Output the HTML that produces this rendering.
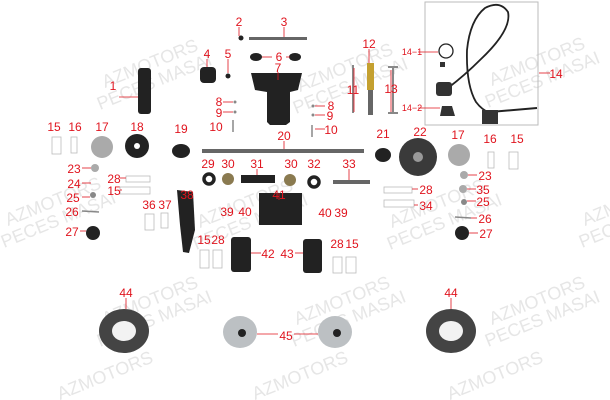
<!DOCTYPE html>
<html><head><style>
body{margin:0;background:#fff;}
svg{display:block}
.l{font-family:"Liberation Sans",sans-serif;font-size:12px;fill:#e0141e;text-anchor:middle;}
.w{font-family:"Liberation Sans",sans-serif;font-size:18px;fill:#e6e6e6;}
</style></head><body>
<svg width="610" height="400" xmlns="http://www.w3.org/2000/svg">
<g class="w">
<text transform="translate(105,88) rotate(-22)">AZMOTORS</text><text transform="translate(100,110) rotate(-22)">PECES MASAI</text>
<text transform="translate(300,92) rotate(-22)">AZMOTORS</text><text transform="translate(296,114) rotate(-22)">PECES MASAI</text>
<text transform="translate(492,86) rotate(-22)">AZMOTORS</text><text transform="translate(488,108) rotate(-22)">PECES MASAI</text>
<text transform="translate(8,226) rotate(-22)">AZMOTORS</text><text transform="translate(4,248) rotate(-22)">PECES MASAI</text>
<text transform="translate(200,228) rotate(-22)">AZMOTORS</text><text transform="translate(196,250) rotate(-22)">PECES MASAI</text>
<text transform="translate(392,228) rotate(-22)">AZMOTORS</text><text transform="translate(390,250) rotate(-22)">PECES MASAI</text>
<text transform="translate(585,226) rotate(-22)">AZMOTORS</text><text transform="translate(582,248) rotate(-22)">PECES MASAI</text>
<text transform="translate(105,325) rotate(-22)">AZMOTORS</text><text transform="translate(100,347) rotate(-22)">PECES MASAI</text>
<text transform="translate(297,325) rotate(-22)">AZMOTORS</text><text transform="translate(294,347) rotate(-22)">PECES MASAI</text>
<text transform="translate(492,325) rotate(-22)">AZMOTORS</text><text transform="translate(488,347) rotate(-22)">PECES MASAI</text>
<text transform="translate(60,400) rotate(-22)">AZMOTORS</text><text transform="translate(255,400) rotate(-22)">AZMOTORS</text><text transform="translate(450,400) rotate(-22)">AZMOTORS</text>
</g>
<!-- parts -->
<g fill="#222">
<rect x="138" y="68" width="13" height="46" rx="3"/>
<rect x="200" y="67" width="16" height="16" rx="4"/>
<circle cx="228" cy="76" r="2.5"/><circle cx="241" cy="38" r="2.5"/>
<ellipse cx="256" cy="57" rx="6" ry="4"/><ellipse cx="295" cy="57" rx="6" ry="4"/>
<path d="M251 73 L302 73 L298 90 L290 92 L290 122 L286 125 L270 125 L267 122 L267 92 L255 90Z"/>
<circle cx="137" cy="146" r="12"/><circle cx="137" cy="146" r="3" fill="#fff"/>
<ellipse cx="181" cy="151" rx="9" ry="7"/>
<ellipse cx="383" cy="155" rx="8" ry="7"/>
<circle cx="418" cy="157" r="19" fill="#3a3a3a"/><circle cx="418" cy="157" r="5" fill="#999"/>
<rect x="241" y="175" width="34" height="8"/>
<path d="M259 193 L302 193 L302 225 L259 225Z"/>
<rect x="231" y="237" width="20" height="35" rx="3"/>
<rect x="303" y="239" width="19" height="34" rx="3"/>
<path d="M177 190 L193 192 L195 230 L189 253 L183 252 L180 225Z"/>
<circle cx="93" cy="233" r="7"/><circle cx="462" cy="233" r="7"/>
<rect x="333" y="180" width="37" height="4" fill="#666"/>
<rect x="202" y="149" width="162" height="4" fill="#666"/>
<rect x="249" y="37" width="58" height="3" fill="#666"/>
<rect x="352" y="65" width="2" height="48" fill="#888"/>
<rect x="392" y="67" width="2" height="46" fill="#888"/>
<rect x="388" y="66" width="10" height="2" fill="#888"/><rect x="388" y="112" width="10" height="2" fill="#888"/>
</g>
<g fill="none" stroke="#222" stroke-width="3.5">
<circle cx="209" cy="179" r="5"/><circle cx="314" cy="182" r="5"/>
</g>
<g fill="#8a7a50"><circle cx="228" cy="179" r="6"/><circle cx="290" cy="180" r="6"/></g>
<g fill="#aaa"><circle cx="102" cy="147" r="11"/><circle cx="459" cy="155" r="11"/><circle cx="95" cy="168" r="4"/><circle cx="464" cy="175" r="4"/><circle cx="463" cy="189" r="4"/></g>
<g fill="#888"><circle cx="93" cy="195" r="3"/><circle cx="464" cy="202" r="3"/><circle cx="235" cy="102" r="1.5"/><circle cx="235" cy="112" r="1.5"/><circle cx="313" cy="106" r="1.5"/><circle cx="313" cy="115" r="1.5"/></g>
<g stroke="#888" stroke-width="1.5"><line x1="82" y1="211" x2="99" y2="212"/><line x1="455" y1="217" x2="471" y2="218"/><line x1="233" y1="120" x2="233" y2="132"/><line x1="312" y1="125" x2="312" y2="137"/></g>
<rect x="367" y="63" width="7" height="27" fill="#c4a030"/><rect x="368" y="90" width="5" height="25" fill="#666"/>
<rect x="425" y="2" width="113" height="123" fill="none" stroke="#bbb"/>
<path d="M448 88 Q465 75 480 60 Q512 30 508 12 Q500 0 485 8 Q470 20 467 50 Q466 85 476 102 Q482 110 490 113" stroke="#222" stroke-width="1.8" fill="none"/>
<path d="M490 112 L537 108" stroke="#222" stroke-width="2"/>
<ellipse cx="446" cy="51" rx="7" ry="7" fill="none" stroke="#222" stroke-width="1.3"/>
<rect x="440" y="62" width="5" height="5" fill="#333"/>
<rect x="436" y="82" width="16" height="14" rx="3" fill="#333"/>
<path d="M440 116 L442 106 L452 106 L455 116Z" fill="#333"/>
<rect x="482" y="110" width="16" height="14" fill="#333"/>
<!-- tires/hubs -->
<ellipse cx="124" cy="331" rx="25" ry="22" fill="#444"/><ellipse cx="124" cy="331" rx="12" ry="10" fill="#f2f2f2"/>
<ellipse cx="451" cy="331" rx="25" ry="22" fill="#444"/><ellipse cx="451" cy="331" rx="12" ry="10" fill="#f2f2f2"/>
<ellipse cx="240" cy="332" rx="17" ry="16" fill="#bcc0c3"/><circle cx="242" cy="333" r="4" fill="#222"/>
<ellipse cx="335" cy="332" rx="17" ry="16" fill="#bcc0c3"/><circle cx="337" cy="333" r="4" fill="#222"/>
<!-- small boxes -->
<g fill="#fff" stroke="#bbb" stroke-width="0.8">
<rect x="52" y="137" width="9" height="17"/><rect x="71" y="137" width="6" height="16"/>
<rect x="488" y="152" width="6" height="16"/><rect x="509" y="152" width="9" height="17"/>
<rect x="126" y="176" width="24" height="6"/><rect x="120" y="187" width="30" height="7"/>
<rect x="384" y="187" width="28" height="6"/><rect x="384" y="200" width="30" height="7"/>
<rect x="145" y="214" width="9" height="16"/><rect x="161" y="213" width="7" height="15"/>
<rect x="200" y="250" width="9" height="18"/><rect x="213" y="250" width="9" height="18"/>
<rect x="333" y="257" width="9" height="16"/><rect x="346" y="257" width="10" height="16"/>
</g>
<!-- leader lines -->
<g stroke="#e0141e" stroke-width="0.8">
<line x1="239" y1="27" x2="239" y2="36"/><line x1="284" y1="27" x2="284" y2="37"/>
<line x1="207" y1="59" x2="207" y2="67"/><line x1="228" y1="59" x2="228" y2="73"/>
<line x1="262" y1="57" x2="272" y2="57"/><line x1="286" y1="57" x2="290" y2="57"/>
<line x1="278" y1="72" x2="278" y2="80"/><line x1="369" y1="49" x2="369" y2="63"/>
<line x1="119" y1="97" x2="138" y2="97"/><line x1="354" y1="68" x2="354" y2="112"/>
<line x1="391" y1="70" x2="391" y2="112"/><line x1="539" y1="73" x2="550" y2="73"/>
<line x1="418" y1="52" x2="438" y2="52"/><line x1="418" y1="108" x2="440" y2="108"/>
<line x1="223" y1="102" x2="233" y2="102"/><line x1="223" y1="112" x2="233" y2="112"/>
<line x1="315" y1="106" x2="325" y2="106"/><line x1="315" y1="115" x2="325" y2="115"/><line x1="315" y1="129" x2="325" y2="129"/>
<line x1="284" y1="141" x2="284" y2="149"/><line x1="349" y1="169" x2="349" y2="180"/>
<line x1="257" y1="169" x2="257" y2="175"/><line x1="279" y1="200" x2="279" y2="193"/>
<line x1="82" y1="168" x2="91" y2="168"/><line x1="82" y1="183" x2="91" y2="183"/>
<line x1="82" y1="197" x2="90" y2="197"/><line x1="80" y1="231" x2="86" y2="231"/>
<line x1="120" y1="178" x2="126" y2="178"/><line x1="120" y1="190" x2="122" y2="190"/>
<line x1="468" y1="175" x2="477" y2="175"/><line x1="467" y1="189" x2="476" y2="189"/>
<line x1="467" y1="201" x2="476" y2="201"/><line x1="471" y1="218" x2="477" y2="218"/>
<line x1="469" y1="233" x2="478" y2="233"/><line x1="412" y1="189" x2="418" y2="189"/>
<line x1="414" y1="205" x2="418" y2="205"/>
<line x1="251" y1="253" x2="261" y2="253"/><line x1="295" y1="253" x2="303" y2="253"/>
<line x1="126" y1="298" x2="126" y2="309"/><line x1="451" y1="298" x2="451" y2="309"/>
<line x1="257" y1="334" x2="278" y2="334"/><line x1="294" y1="334" x2="318" y2="334"/>
</g>
<g class="l">
<text x="239" y="26">2</text><text x="284" y="26">3</text><text x="207" y="58">4</text><text x="228" y="58">5</text>
<text x="279" y="61">6</text><text x="278" y="72">7</text><text x="369" y="48">12</text>
<text x="113" y="90">1</text><text x="353" y="94">11</text><text x="391" y="93">13</text><text x="556" y="78">14</text>
<text x="412" y="55" style="font-size:9px">14−1</text><text x="412" y="111" style="font-size:9px">14−2</text>
<text x="219" y="106">8</text><text x="219" y="117">9</text><text x="216" y="131">10</text>
<text x="331" y="110">8</text><text x="330" y="120">9</text><text x="331" y="134">10</text>
<text x="54" y="131">15</text><text x="75" y="131">16</text><text x="102" y="131">17</text><text x="137" y="131">18</text>
<text x="181" y="133">19</text><text x="284" y="140">20</text><text x="383" y="138">21</text><text x="420" y="136">22</text>
<text x="458" y="139">17</text><text x="490" y="143">16</text><text x="517" y="143">15</text>
<text x="208" y="168">29</text><text x="228" y="168">30</text><text x="257" y="168">31</text><text x="291" y="168">30</text>
<text x="314" y="168">32</text><text x="349" y="168">33</text>
<text x="74" y="173">23</text><text x="74" y="188">24</text><text x="73" y="202">25</text><text x="72" y="216">26</text><text x="72" y="236">27</text>
<text x="114" y="183">28</text><text x="114" y="195">15</text><text x="187" y="199">38</text>
<text x="149" y="209">36</text><text x="165" y="209">37</text><text x="227" y="216">39</text><text x="245" y="216">40</text>
<text x="279" y="199">41</text><text x="325" y="217">40</text><text x="341" y="217">39</text>
<text x="426" y="194">28</text><text x="426" y="210">34</text><text x="485" y="180">23</text><text x="483" y="194">35</text>
<text x="483" y="206">25</text><text x="485" y="223">26</text><text x="486" y="238">27</text>
<text x="204" y="244">15</text><text x="218" y="244">28</text><text x="268" y="258">42</text><text x="287" y="258">43</text>
<text x="337" y="248">28</text><text x="352" y="248">15</text>
<text x="126" y="297">44</text><text x="451" y="297">44</text><text x="286" y="340">45</text>
</g>
</svg>
</body></html>
